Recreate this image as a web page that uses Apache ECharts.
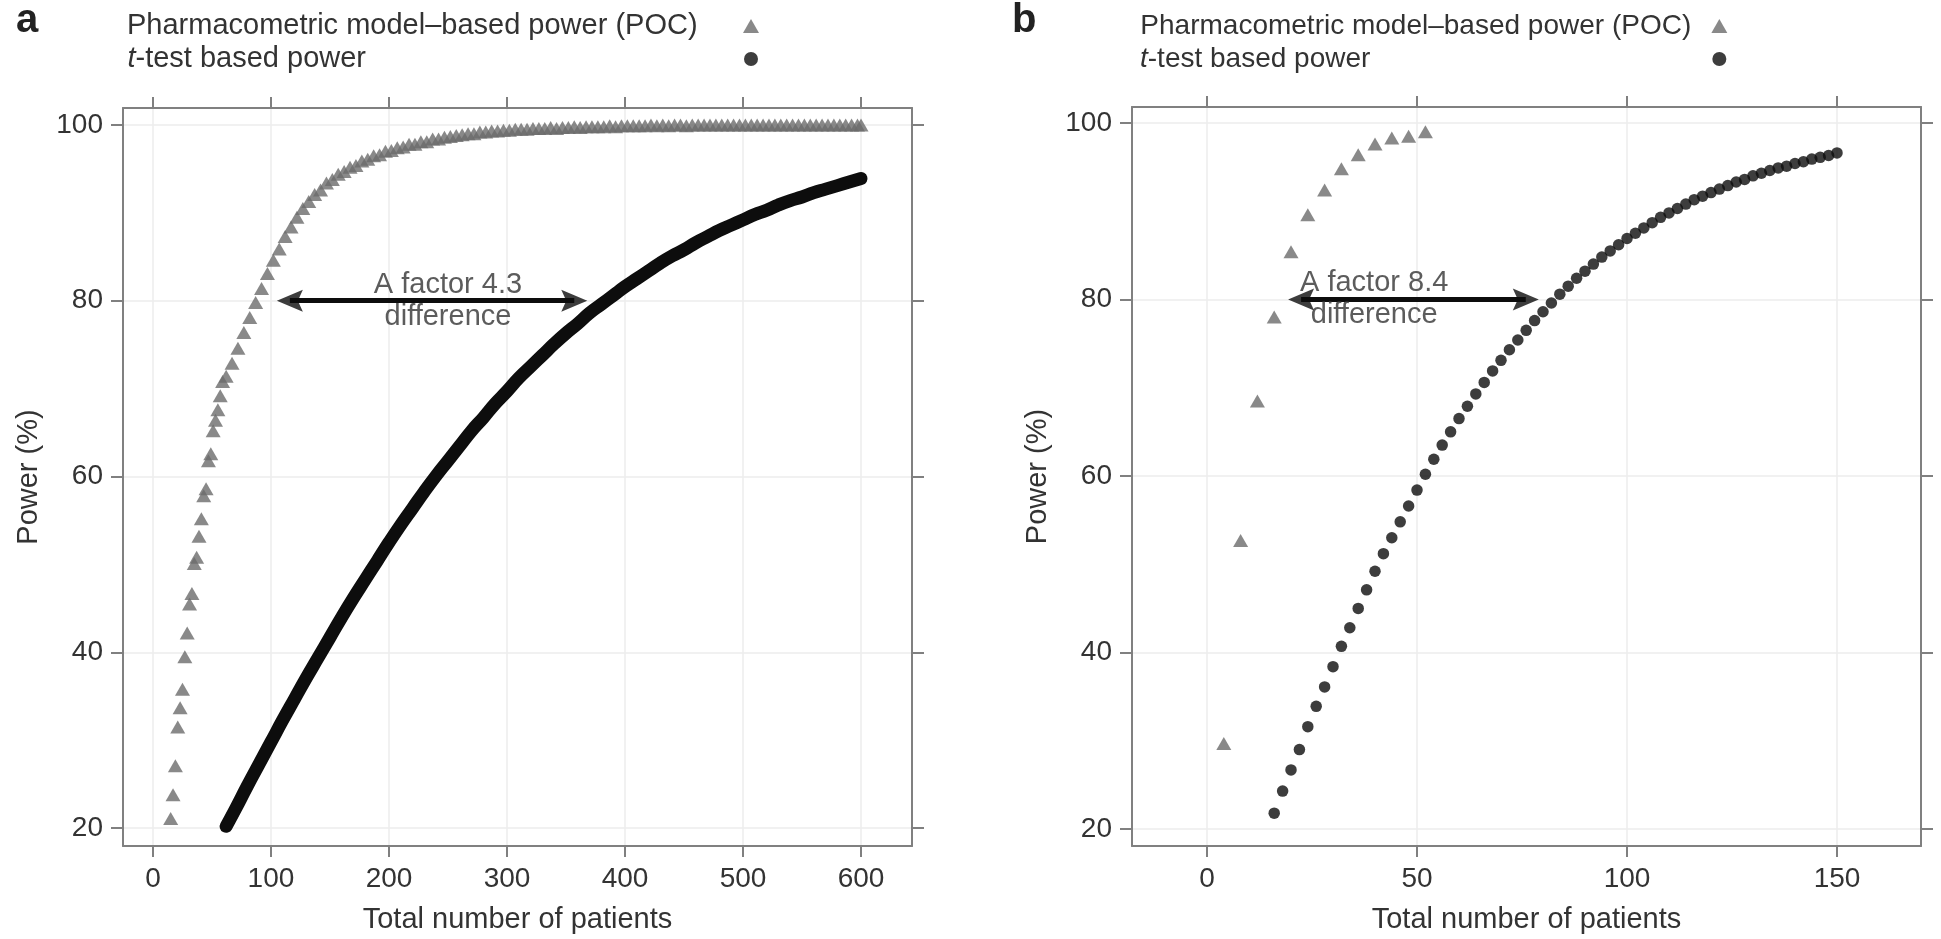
<!DOCTYPE html>
<html><head><meta charset="utf-8">
<script src="https://cdn.jsdelivr.net/npm/echarts@6/dist/echarts.min.js"></script>
<style>html,body{margin:0;padding:0;background:#fff}#c{width:1941px;height:939px}</style>
</head><body><div id="c"></div>
<script>
const nameModel = 'Pharmacometric model\u2013based power (POC)';
const nameT = 't-test based power';
const xTicksA = [0, 100, 200, 300, 400, 500, 600];
const xTicksB = [0, 50, 100, 150];
const yTicks = [20, 40, 60, 80, 100];
const xTitle = 'Total number of patients';
const yTitle = 'Power (%)';

// Panel a: pharmacometric (POC) power, [patients, power %]
const pocA = [[15,21.1],[17,23.8],[19,27.1],[21,31.5],[23,33.7],[25,35.8],[27,39.5],[29,42.2],[31,45.5],[33,46.7],[35,50.1],[37,50.8],[39,53.2],[41,55.2],[43,57.8],[45,58.6],[47,61.8],[49,62.6],[51,65.2],[53,66.4],[55,67.6],[57,69.2],[59,70.8],
[62,71.4],[67,72.9],[72,74.6],[77,76.4],[82,78.1],[87,79.8],[92,81.4],[97,83.1],[102,84.6],[107,85.9],[112,87.3],[117,88.4],[122,89.5],[127,90.5],[132,91.3],[137,92.1],[142,92.6],[147,93.4],[152,93.8],[157,94.4],[162,94.7],[167,95.2],[172,95.4],[177,95.9],[182,96.1],[187,96.5],[192,96.6],[197,97.0],[202,97.1],[207,97.4],[212,97.5],[217,97.8],[222,97.8],[227,98.1],[232,98.1],[237,98.4],[242,98.4],[247,98.6],[252,98.7],[257,98.8],[262,98.9],[267,99.0],[272,99.0],[277,99.2],[282,99.2],[287,99.3],[292,99.3],[297,99.4],[302,99.4],[307,99.5],[312,99.5],[317,99.5],[322,99.6],[327,99.6],[332,99.6],[337,99.7],[342,99.6],[347,99.7],[352,99.7],[357,99.8],[362,99.7],[367,99.8],[372,99.8],[377,99.8],[382,99.8],[387,99.9],[392,99.8],[397,99.9],[402,99.9],[407,99.9],[412,99.9],[417,99.9],[422,100],[427,99.9],[432,100],[437,99.9],[442,100],[447,100],[452,99.9],[457,100],[462,100],[467,100],[472,100],[477,100],[482,100],[487,100],[492,100],[497,100],[502,100],[507,100],[512,100],[517,100],[522,100],[527,100],[532,100],[537,100],[542,100],[547,100],[552,100],[557,100],[562,100],[567,100],[572,100],[577,100],[582,100],[587,100],[592,100],[597,100],[600,100]];

// Panel a: t-test based power
const tTestA = [[62,20.2],[70,22.2],[80,24.8],[90,27.3],[100,29.8],[110,32.3],[120,34.7],[130,37.1],[140,39.4],[150,41.7],[160,44.0],[170,46.2],[180,48.3],[190,50.4],[200,52.5],[210,54.5],[220,56.4],[230,58.3],[240,60.1],[250,61.8],[260,63.5],[270,65.2],[280,66.7],[290,68.3],[300,69.7],[310,71.2],[320,72.5],[330,73.8],[340,75.1],[350,76.3],[360,77.4],[370,78.6],[380,79.6],[390,80.6],[400,81.6],[410,82.5],[420,83.4],[430,84.3],[440,85.1],[450,85.8],[460,86.6],[470,87.3],[480,88.0],[490,88.6],[500,89.2],[510,89.8],[520,90.3],[530,90.9],[540,91.4],[550,91.8],[560,92.3],[570,92.7],[580,93.1],[590,93.5],[600,93.9]];

// Panel b
const pocB = [[4,29.7],[8,52.7],[12,68.5],[16,78.0],[20,85.4],[24,89.6],[28,92.4],[32,94.8],[36,96.4],[40,97.6],[44,98.3],[48,98.5],[52,99.0]];
const tTestB = [[16,21.8],[18,24.3],[20,26.7],[22,29.0],[24,31.6],[26,33.9],[28,36.1],[30,38.4],[32,40.7],[34,42.8],[36,45.0],[38,47.1],[40,49.2],[42,51.2],[44,53.0],[46,54.8],[48,56.6],[50,58.4],[52,60.2],[54,61.9],[56,63.5],[58,65.0],[60,66.5],[62,67.9],[64,69.3],[66,70.6],[68,71.9],[70,73.1],[72,74.3],[74,75.4],[76,76.5],[78,77.6],[80,78.6],[82,79.6],[84,80.6],[86,81.5],[88,82.4],[90,83.2],[92,84.0],[94,84.8],[96,85.5],[98,86.2],[100,86.9],[102,87.5],[104,88.1],[106,88.7],[108,89.3],[110,89.8],[112,90.3],[114,90.8],[116,91.3],[118,91.7],[120,92.1],[122,92.5],[124,92.9],[126,93.3],[128,93.6],[130,94.0],[132,94.3],[134,94.6],[136,94.9],[138,95.1],[140,95.4],[142,95.6],[144,95.9],[146,96.1],[148,96.3],[150,96.6]];

// Annotations: arrow head centres, note anchor
const arrowA = [[116, 80], [357, 80]];
const arrowB = [[22.4, 80], [75.9, 80]];
const noteA = [[250, 80]];
const noteB = [[39.8, 80]];
const noteTextA = 'A factor 4.3\ndifference';
const noteTextB = 'A factor 8.4\ndifference';

const FONT = '"Liberation Sans", Arial, Helvetica, sans-serif';
const GRAY = '#808080';
const TXT = '#333333';
const TRI = '#6b6b6b';
const DOT = '#0d0d0d';
const FS = 28;
const FT = 29;
const HEAD = 'path://M0,0 L10,26 L0,21 L-10,26 Z';

const chart = echarts.init(document.getElementById('c'), null, {renderer: 'canvas'});

function xAx(grid, min, max, ticks, bottom, splitNumber) {
  return {
    gridIndex: grid, type: 'value', min: min, max: max, position: bottom ? 'bottom' : 'top',
    splitNumber: splitNumber,
    axisLine: {show: true, onZero: false, lineStyle: {color: GRAY, width: 2}},
    axisTick: {show: true, customValues: ticks, length: 11, lineStyle: {color: GRAY, width: 2}},
    axisLabel: {show: bottom, customValues: ticks, margin: 19, fontSize: FS, color: TXT, fontFamily: FONT},
    splitLine: {show: bottom, lineStyle: {color: '#ececec', width: 1.5}},
    name: bottom ? xTitle : '', nameLocation: 'middle', nameGap: 59,
    nameTextStyle: {fontSize: FT, color: TXT, fontFamily: FONT}
  };
}
function yAx(grid, min, max, left) {
  return {
    gridIndex: grid, type: 'value', min: min, max: max, position: left ? 'left' : 'right',
    splitNumber: 5,
    axisLine: {show: true, onZero: false, lineStyle: {color: GRAY, width: 2}},
    axisTick: {show: true, customValues: yTicks, length: 12, lineStyle: {color: GRAY, width: 2}},
    axisLabel: {show: left, customValues: yTicks, margin: 20, fontSize: FS, color: TXT, fontFamily: FONT},
    splitLine: {show: left, lineStyle: {color: '#ececec', width: 1.5}},
    name: left ? yTitle : '', nameLocation: 'middle', nameGap: 80,
    nameTextStyle: {fontSize: FT, color: TXT, fontFamily: FONT}
  };
}
function legendFor(left, W, fs) {
  const tw = Math.round(8.226 * fs); // width of "t-test based power"
  const base = {fontSize: fs, color: TXT, fontFamily: FONT, lineHeight: 30};
  return {
    left: left, top: 6, orient: 'vertical', align: 'right', itemGap: 3,
    itemWidth: 16, itemHeight: 14, selectedMode: false,
    itemStyle: {borderWidth: 0},
    textStyle: Object.assign({}, base, {
      rich: {
        m: Object.assign({width: W, align: 'left'}, base),
        it: Object.assign({fontStyle: 'italic', align: 'left'}, base),
        tr: Object.assign({align: 'left'}, base),
        pad: Object.assign({width: W - tw, align: 'left'}, base)
      }}),
    formatter: function (n) { return n === nameT ? '{it|t}{tr|-test based power}{pad| }' : '{m|' + n + '}'; },
    data: [{name: nameModel, icon: 'triangle'}, {name: nameT, icon: 'circle'}]
  };
}
function shaft(pts) {
  return {
    silent: true, symbol: ['none', 'none'],
    lineStyle: {color: DOT, width: 5, type: 'solid'},
    label: {show: false}, emphasis: {disabled: true},
    data: [[{coord: pts[0]}, {coord: pts[1]}]]
  };
}
function heads(xi, yi, pts) {
  return {
    type: 'scatter', xAxisIndex: xi, yAxisIndex: yi, silent: true, z: 5,
    symbol: HEAD, symbolSize: [22, 26], itemStyle: {color: DOT},
    data: [{value: pts[0], symbolRotate: 90}, {value: pts[1], symbolRotate: -90}]
  };
}
function note(xi, yi, d, txt) {
  return {
    type: 'scatter', xAxisIndex: xi, yAxisIndex: yi, data: d, symbolSize: 1, silent: true, z: 6,
    itemStyle: {color: 'rgba(0,0,0,0)'},
    label: {show: true, position: 'inside', formatter: txt, fontSize: FT, lineHeight: 32,
      color: TXT, fontFamily: FONT}
  };
}

const option = {
  backgroundColor: '#ffffff',
  animation: false,
  textStyle: {fontFamily: FONT},
  title: [
    {text: 'a', left: 11, top: -4, textStyle: {fontSize: 40, fontWeight: 'bold', color: '#222', fontFamily: FONT}},
    {text: 'b', left: 1007, top: -4, textStyle: {fontSize: 40, fontWeight: 'bold', color: '#222', fontFamily: FONT}}
  ],
  legend: [legendFor(122, 611, 29), legendFor(1135, 566, 28)],
  grid: [
    {left: 123, top: 108, width: 789, height: 740, containLabel: false},
    {left: 1132, top: 107, width: 789, height: 741, containLabel: false}
  ],
  xAxis: [
    xAx(0, -25.4, 643.2, xTicksA, true, 5),
    xAx(0, -25.4, 643.2, xTicksA, false, 5),
    xAx(1, -17.86, 170, xTicksB, true, 4),
    xAx(1, -17.86, 170, xTicksB, false, 4)
  ],
  yAxis: [
    yAx(0, 17.96, 101.93, true),
    yAx(0, 17.96, 101.93, false),
    yAx(1, 18.08, 101.8, true),
    yAx(1, 18.08, 101.8, false)
  ],
  series: [
    {name: nameModel, type: 'scatter', xAxisIndex: 2, yAxisIndex: 2, data: pocB,
      symbol: 'triangle', symbolSize: [15, 13], itemStyle: {color: TRI}, z: 3},
    {name: nameT, type: 'scatter', xAxisIndex: 2, yAxisIndex: 2, data: tTestB,
      symbol: 'circle', symbolSize: 11.5, itemStyle: {color: DOT}, z: 3,
      markLine: shaft(arrowB)},
    {name: nameModel, type: 'scatter', xAxisIndex: 0, yAxisIndex: 0, data: pocA,
      symbol: 'triangle', symbolSize: [15, 13], itemStyle: {color: TRI}, z: 3},
    {name: nameT, type: 'line', xAxisIndex: 0, yAxisIndex: 0, data: tTestA,
      showSymbol: false, smooth: true, lineStyle: {color: DOT, width: 13, cap: 'round'},
      itemStyle: {color: DOT}, z: 3, markLine: shaft(arrowA)},
    heads(0, 0, arrowA),
    heads(2, 2, arrowB),
    note(0, 0, noteA, noteTextA),
    note(2, 2, noteB, noteTextB)
  ]
};
chart.setOption(option);
</script>
</body></html>
